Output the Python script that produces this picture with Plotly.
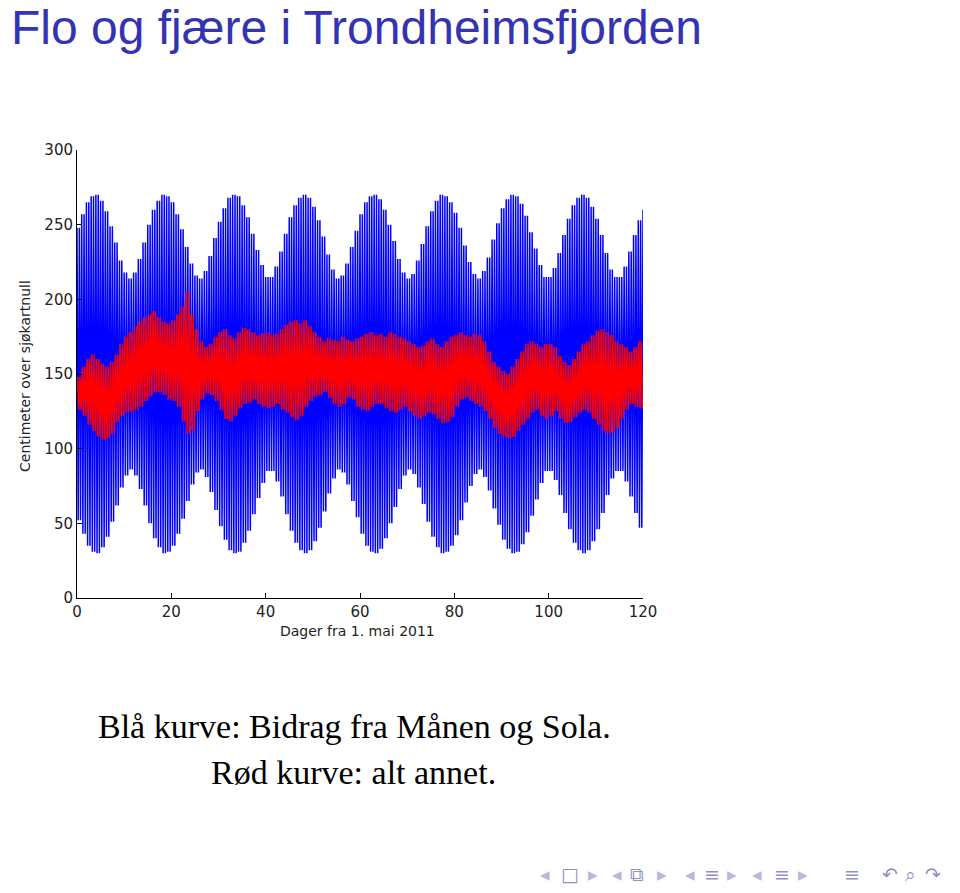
import plotly.graph_objects as go

# ---- data (cm above chart datum, per day from 1 May 2011) ----
days = list(range(0, 121))

blue_high = [248, 257, 265, 269, 270, 266, 259, 249, 238, 226,
             218, 214, 218, 227, 238, 250, 260, 266, 270, 269,
             265, 257, 247, 235, 224, 216, 214, 219, 229, 241,
             252, 261, 268, 270, 269, 263, 255, 244, 233, 223,
             215, 215, 222, 232, 244, 255, 263, 268, 270, 268,
             262, 253, 242, 230, 220, 214, 216, 224, 235, 246,
             257, 265, 269, 270, 267, 260, 250, 239, 227, 218,
             214, 217, 226, 237, 249, 259, 266, 270, 269, 265,
             258, 248, 236, 225, 217, 214, 219, 228, 240, 251,
             261, 267, 270, 269, 264, 256, 245, 234, 223, 215,
             215, 221, 231, 243, 254, 263, 268, 270, 268, 262,
             254, 243, 231, 220, 215, 215, 222, 232, 243, 253,
             260]

blue_low = [52, 43, 35, 31, 30, 34, 41, 51, 62, 74,
            82, 86, 82, 73, 62, 50, 40, 34, 30, 31,
            35, 43, 53, 65, 76, 84, 86, 81, 71, 59,
            48, 39, 32, 30, 31, 37, 45, 56, 67, 77,
            85, 85, 78, 68, 56, 45, 37, 32, 30, 32,
            38, 47, 58, 70, 80, 86, 84, 76, 65, 54,
            43, 35, 31, 30, 33, 40, 50, 61, 73, 82,
            86, 83, 74, 63, 51, 41, 34, 30, 31, 35,
            42, 52, 64, 75, 83, 86, 81, 72, 60, 49,
            39, 33, 30, 31, 36, 44, 55, 66, 77, 85,
            85, 79, 69, 57, 46, 37, 32, 30, 32, 38,
            46, 57, 69, 80, 85, 85, 78, 68, 57, 47,
            40]

red_high = [148, 155, 160, 163, 160, 157, 155, 158, 163, 170,
            175, 178, 182, 185, 188, 190, 192, 188, 185, 184,
            186, 190, 195, 205, 190, 180, 172, 168, 170, 175,
            178, 180, 176, 174, 178, 181, 180, 178, 176, 177,
            178, 176, 177, 180, 183, 185, 186, 184, 186, 182,
            178, 175, 172, 174, 173, 172, 175, 173, 172, 174,
            175, 177, 178, 176, 177, 175, 178, 177, 175, 174,
            172, 170, 168, 169, 172, 174, 170, 168, 172, 175,
            176, 178, 176, 175, 177, 176, 172, 165, 158, 155,
            152, 150, 155, 160, 165, 170, 172, 170, 168, 170,
            170, 168, 162, 158, 156, 160, 165, 170, 172, 176,
            179, 180, 178, 176, 172, 170, 168, 165, 168, 172,
            176]

red_low = [126, 122, 116, 112, 108, 106, 107, 110, 118, 122,
           124, 125, 126, 128, 132, 135, 138, 138, 136, 133,
           132, 128, 118, 110, 112, 125, 133, 137, 136, 132,
           126, 120, 118, 122, 127, 130, 131, 133, 130, 128,
           127, 128, 130, 126, 124, 121, 119, 122, 128, 132,
           135, 136, 138, 134, 130, 128, 130, 134, 133, 128,
           126, 125, 128, 130, 130, 127, 125, 124, 126, 128,
           125, 122, 120, 122, 124, 123, 120, 117, 118, 121,
           128, 133, 134, 132, 130, 128, 125, 120, 114, 110,
           108, 107, 108, 112, 116, 120, 124, 126, 122, 120,
           122, 125, 120, 117, 118, 121, 124, 126, 124, 120,
           116, 112, 110, 111, 114, 120, 126, 130, 128, 127,
           130]

x_ticks = [0, 20, 40, 60, 80, 100, 120]
y_ticks = [0, 50, 100, 150, 200, 250, 300]

title_text = "Flo og fjære i Trondheimsfjorden"
x_title = "Dager fra 1. mai 2011"
y_title = "Centimeter over sjøkartnull"
caption_1 = "Blå kurve: Bidrag fra Månen og Sola."
caption_2 = "Rød kurve: alt annet."


def tide_path(hi, lo, offset):
    """Alternate each day's high and low readings (two tides a day)."""
    xs, ys = [], []
    for i, d in enumerate(days):
        for k, frac in enumerate((0.0, 0.25, 0.5, 0.75)):
            t = d + offset + frac
            if t > days[-1]:
                break
            xs.append(t)
            ys.append(hi[i] if k % 2 == 0 else lo[i])
    return xs, ys


bx, by = tide_path(blue_high, blue_low, 0.0)
rx, ry = tide_path(red_high, red_low, 0.125)

fig = go.Figure()
fig.add_trace(go.Scatter(x=bx, y=by, mode="lines",
                         line=dict(color="#0000FF", width=1.5), showlegend=False,
                         hoverinfo="skip"))
fig.add_trace(go.Scatter(x=rx, y=ry, mode="lines",
                         line=dict(color="#FF0000", width=1.5), showlegend=False,
                         hoverinfo="skip"))

L, R, T, B = 77, 643, 150, 598
W, H = 960, 893


def px(x):
    return (x - L) / (R - L)


def py(y):
    return (B - y) / (B - T)


axis_font = dict(family="DejaVu Sans", size=14, color="#222222")
tick_font = dict(family="DejaVu Sans", size=15, color="#222222")

fig.update_xaxes(range=[0, 120], tickvals=x_ticks, ticktext=[str(v) for v in x_ticks],
                 showgrid=False, zeroline=False, showline=True, linecolor="black",
                 linewidth=1, ticks="inside", ticklen=5, tickcolor="black",
                 tickfont=tick_font, fixedrange=True)
fig.update_yaxes(range=[0, 300], tickvals=y_ticks, ticktext=[str(v) for v in y_ticks],
                 showgrid=False, zeroline=False, showline=True, linecolor="black",
                 linewidth=1, ticks="inside", ticklen=5, tickcolor="black",
                 tickfont=tick_font, fixedrange=True)

annotations = [
    dict(text=title_text, x=px(9), y=py(27), xanchor="left", yanchor="middle",
         font=dict(family="Liberation Sans", size=48, color="#3333B3")),
    dict(text=y_title, x=px(25), y=py(376), xanchor="center", yanchor="middle",
         textangle=-90, font=axis_font),
    dict(text=x_title, x=px(357), y=py(631), xanchor="center", yanchor="middle",
         font=axis_font),
    dict(text=caption_1, x=px(354), y=py(726), xanchor="center", yanchor="middle",
         font=dict(family="Liberation Serif", size=34, color="black")),
    dict(text=caption_2, x=px(353), y=py(772), xanchor="center", yanchor="middle",
         font=dict(family="Liberation Serif", size=34, color="black")),
]

nav_light = "#b8b8dc"
nav_dark = "#9090c4"
nav_items = [
    ("◂", 545, nav_light), ("□", 570, nav_dark), ("▸", 593, nav_light),
    ("◂", 617, nav_light), ("⧉", 637, nav_dark), ("▸", 662, nav_light),
    ("◂", 690, nav_light), ("≡", 712, nav_dark), ("▸", 732, nav_light),
    ("◂", 757, nav_light), ("≡", 782, nav_dark), ("▸", 803, nav_light),
    ("≡", 852, nav_dark),
    ("↶", 890, nav_dark), ("⌕", 910, nav_dark), ("↷", 933, nav_dark),
]
for sym, xpos, col in nav_items:
    annotations.append(dict(text=sym, x=px(xpos), y=py(874), xanchor="center",
                            yanchor="middle", showarrow=False,
                            font=dict(family="DejaVu Sans", size=19, color=col)))

for a in annotations:
    a.setdefault("showarrow", False)
    a["xref"] = "paper"
    a["yref"] = "paper"

fig.update_layout(width=W, height=H, autosize=False,
                  margin=dict(l=L, r=W - R, t=T, b=H - B, pad=0),
                  paper_bgcolor="white", plot_bgcolor="white",
                  annotations=annotations, showlegend=False)

fig.write_html("out.html", config={"displayModeBar": False})
